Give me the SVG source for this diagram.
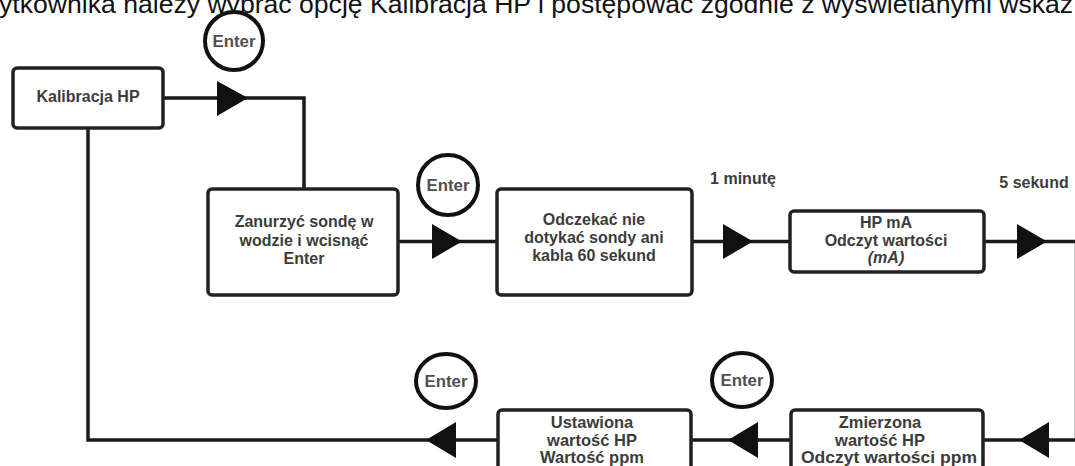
<svg xmlns="http://www.w3.org/2000/svg" width="1075" height="466" viewBox="0 0 1075 466">
<style>
.title{font-family:"Liberation Sans",Arial,sans-serif;font-size:26.6px;fill:#111}
.box{fill:#fff;stroke:#222;stroke-width:3.5}
.t{font-family:"Liberation Sans",Arial,sans-serif;font-size:16px;font-weight:bold;fill:#3c3c3c;text-anchor:middle}
.b{font-size:16.5px}
.enter{fill:#fff;stroke:#111;stroke-width:4}
.et{font-family:"Liberation Sans",Arial,sans-serif;font-size:16px;font-weight:bold;fill:#505050;text-anchor:middle}
.line{fill:none;stroke:#1a1a1a;stroke-width:3.5}
.arr{fill:#111}
</style>
<rect width="1075" height="466" fill="#fff"/>
<text class="title" x="-1" y="13">ytkownika należy wybrać opcję Kalibracja HP i postępować zgodnie z wyświetlanymi wskaz</text>

<g id="connectors">
<path class="line" d="M163,98 H304 V189"/>
<path class="line" d="M498,440 H88 V128"/>
<path class="line" d="M398,241.5 H497"/>
<path class="line" d="M692,241.5 H790"/>
<path class="line" d="M984,241.5 H1076.5 V440 H983"/>
<path class="line" d="M792,440 H691"/>
<polygon class="arr" points="217,81 248,98 217,116"/>
<polygon class="arr" points="432,224 462,241.5 432,259"/>
<polygon class="arr" points="723,224 753,241.5 723,259"/>
<polygon class="arr" points="1017,224 1047,241.5 1017,259"/>
<polygon class="arr" points="456,422 426,440 456,458"/>
<polygon class="arr" points="758,422 728,440 758,458"/>
<polygon class="arr" points="1049,422 1019,440 1049,458"/>
</g>

<g id="enter1"><circle class="enter" cx="234" cy="41" r="29"/><text class="et" x="234" y="47" textLength="43" lengthAdjust="spacingAndGlyphs">Enter</text></g>
<g id="enter2"><circle class="enter" cx="448" cy="185" r="30"/><text class="et" x="448" y="191" textLength="43" lengthAdjust="spacingAndGlyphs">Enter</text></g>
<g id="enter3"><ellipse class="enter" cx="446" cy="381" rx="30" ry="27"/><text class="et" x="446" y="387" textLength="43" lengthAdjust="spacingAndGlyphs">Enter</text></g>
<g id="enter4"><ellipse class="enter" cx="742" cy="380" rx="30" ry="27"/><text class="et" x="742" y="386" textLength="43" lengthAdjust="spacingAndGlyphs">Enter</text></g>

<g id="kalibracja"><rect class="box" x="13" y="68" width="150" height="60" rx="4"/><text class="t" x="88" y="102">Kalibracja HP</text></g>
<g id="zanurzyc"><rect class="box" x="208" y="189" width="190" height="106" rx="4"/>
<text class="t" x="304" y="227">Zanurzyć sondę w</text><text class="t" x="304" y="245.5">wodzie i wcisnąć</text><text class="t" x="304" y="264">Enter</text></g>
<g id="odczekac"><rect class="box" x="497" y="189" width="195" height="106" rx="4"/>
<text class="t" x="594" y="225">Odczekać nie</text><text class="t" x="594" y="243">dotykać sondy ani</text><text class="t" x="594" y="261">kabla 60 sekund</text></g>
<g id="hpma"><rect class="box" x="790" y="211" width="194" height="61" rx="4"/>
<text class="t" x="886" y="228">HP mA</text><text class="t" x="886" y="245.5">Odczyt wartości</text><text class="t" x="886" y="263" font-style="italic">(mA)</text></g>
<g id="ustawiona"><rect class="box" x="498" y="410" width="193" height="80" rx="4"/>
<text class="t b" x="592" y="428">Ustawiona</text>
<text class="t b" x="592" y="445.5">wartość HP</text>
<text class="t b" x="592" y="463">Wartość ppm</text></g>
<g id="zmierzona"><rect class="box" x="791" y="410" width="192" height="80" rx="4"/>
<text class="t b" x="880" y="428">Zmierzona</text>
<text class="t b" x="880" y="445.5">wartość HP</text>
<text class="t b" x="889" y="463" textLength="176" lengthAdjust="spacingAndGlyphs">Odczyt wartości ppm</text></g>

<g id="labels">
<text class="t" x="743" y="184">1 minutę</text>
<text class="t" x="1034" y="188">5 sekund</text>
</g>
</svg>
